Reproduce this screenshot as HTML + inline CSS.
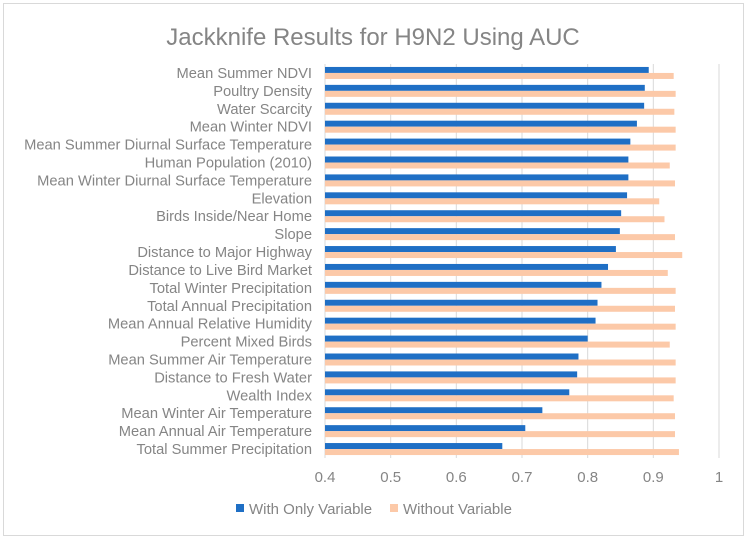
<!DOCTYPE html>
<html><head><meta charset="utf-8"><style>
body{margin:0;background:#fff;font-family:"Liberation Sans",sans-serif}
svg text{font-family:"Liberation Sans",sans-serif;fill:#858585}
</style></head><body>
<svg width="747" height="539" id="c">
<rect x="3.5" y="3.5" width="740" height="532" fill="#fff" stroke="#d9d9d9"/>
<text x="373" y="45" text-anchor="middle" font-size="24">Jackknife Results for H9N2 Using AUC</text>
<g id="grid"></g><g id="bars"></g><g id="labels"></g><g id="ticks"></g>
<g>
<rect x="236" y="504" width="8" height="8" fill="#1f6fc5"/>
<text x="249" y="514" font-size="15">With Only Variable</text>
<rect x="390" y="504" width="8" height="8" fill="#fcc9a8"/>
<text x="403" y="514" font-size="15">Without Variable</text>
</g>
</svg>
<script>
const categories=["Mean Summer NDVI","Poultry Density","Water Scarcity","Mean Winter NDVI","Mean Summer Diurnal Surface Temperature","Human Population (2010)","Mean Winter Diurnal Surface Temperature","Elevation","Birds Inside/Near Home","Slope","Distance to Major Highway","Distance to Live Bird Market","Total Winter Precipitation","Total Annual Precipitation","Mean Annual Relative Humidity","Percent Mixed Birds","Mean Summer Air Temperature","Distance to Fresh Water","Wealth Index","Mean Winter Air Temperature","Mean Annual Air Temperature","Total Summer Precipitation"];
const withOnly=[0.893,0.887,0.886,0.875,0.865,0.862,0.862,0.860,0.851,0.849,0.843,0.831,0.821,0.815,0.812,0.800,0.786,0.784,0.772,0.731,0.705,0.670];
const without=[0.931,0.934,0.932,0.934,0.934,0.925,0.933,0.909,0.917,0.933,0.944,0.922,0.934,0.933,0.934,0.925,0.934,0.934,0.931,0.933,0.933,0.939];
const tickLabels=["0.4","0.5","0.6","0.7","0.8","0.9","1"];
const xMin=0.4,xMax=1.0,L=325,R=719,T=64,B=458;
const x=v=>L+(v-xMin)/(xMax-xMin)*(R-L);
const rowH=(B-T)/categories.length;
const NS="http://www.w3.org/2000/svg";
function mk(t,a,p){const e=document.createElementNS(NS,t);for(const k in a)e.setAttribute(k,a[k]);document.getElementById(p).appendChild(e);return e;}
tickLabels.forEach((t,i)=>{const v=parseFloat(t);const xx=x(v);
 if(i>0){const g=mk("line",{x1:xx,x2:xx,y1:T,y2:B,stroke:"#d9d9d9","stroke-width":1},"grid");
 
 }
 const tx=mk("text",{x:xx,y:482,"text-anchor":"middle","font-size":15},"ticks");tx.textContent=t;
 
 });
const ax=mk("line",{x1:L,x2:L,y1:T,y2:B,stroke:"#d9d9d9"},"grid");


categories.forEach((c,i)=>{const y0=T+i*rowH;const cy=y0+rowH/2;
 const b1=mk("rect",{x:L,y:cy-6,width:x(withOnly[i])-L,height:6,fill:"#1f6fc5"},"bars");
 
 
 const b2=mk("rect",{x:L,y:cy,width:x(without[i])-L,height:6,fill:"#fcc9a8"},"bars");
 
 
 const t=mk("text",{x:312,y:cy+5,"text-anchor":"end","font-size":14.7},"labels");t.textContent=c;
 
 });
</script>
</body></html>
